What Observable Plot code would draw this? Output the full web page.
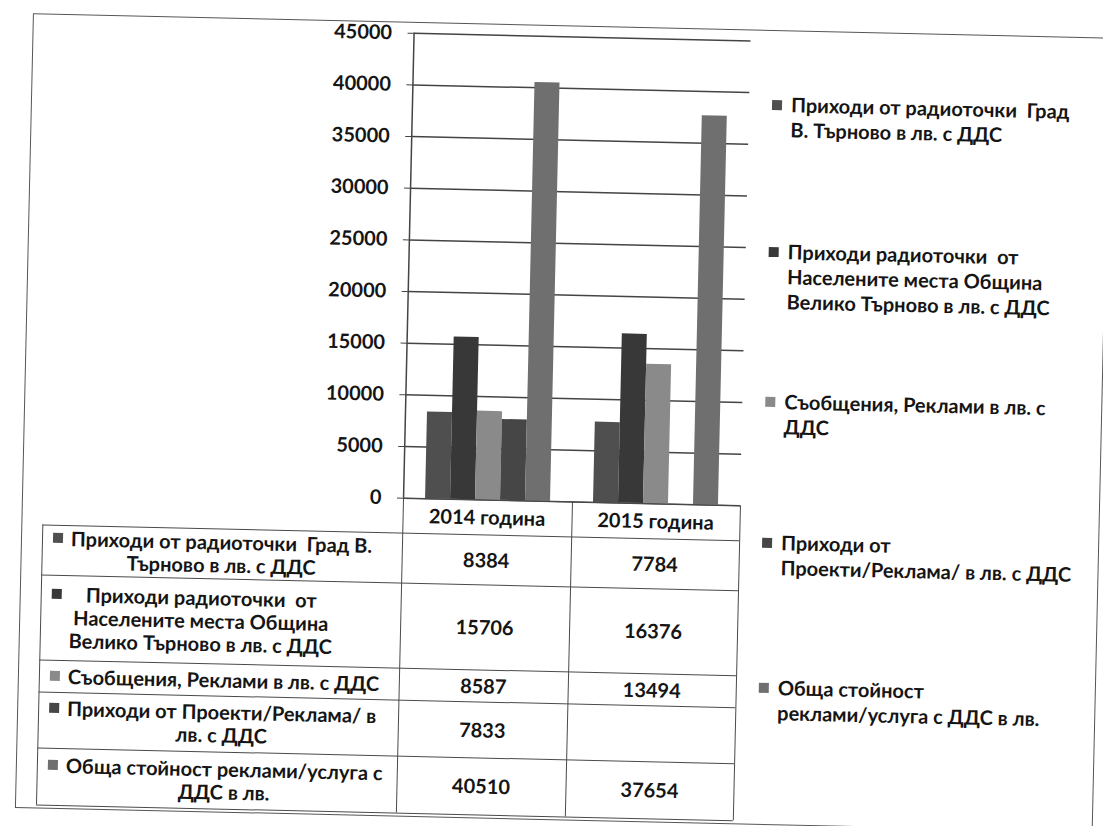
<!DOCTYPE html>
<html><head><meta charset="utf-8">
<script src="https://cdn.jsdelivr.net/npm/d3@7"></script>
<script src="https://cdn.jsdelivr.net/npm/@observablehq/plot@0.6"></script>
<style>
html,body{margin:0;padding:0;background:#fff;overflow:hidden}
#page{position:relative;width:1103px;height:826px;transform:rotate(1.3deg);transform-origin:551px 413px;
  font-family:Lato,"Open Sans",sans-serif;font-weight:700;font-size:20px;color:#151515}
.abs{position:absolute}
.hl{position:absolute;height:0;border-top:1.5px solid #4a4a4a}
.vl{position:absolute;width:0;border-left:1.5px solid #4a4a4a}
.sw{display:inline-block;width:10px;height:10px;flex:none}
.txt{white-space:pre}
.cell{position:absolute;display:flex;align-items:center;justify-content:center;text-align:center;line-height:23px;box-sizing:border-box}
.lab{justify-content:flex-start;padding-left:11px}
.inner{display:flex;align-items:flex-start}
.lab .sw{margin-top:6px;margin-right:8px}
.leg{position:absolute;display:flex;line-height:25px}
.leg .sw{margin-top:8px;margin-right:9px}
</style></head><body>
<div id="page"></div>
<script>
// ---- data ----
const years = ["2014 година", "2015 година"];
const series = [
  "Приходи от радиоточки  Град В. Търново в лв. с ДДС",
  "Приходи радиоточки  от Населените места Община Велико Търново в лв. с ДДС",
  "Съобщения, Реклами в лв. с ДДС",
  "Приходи от Проекти/Реклама/ в лв. с ДДС",
  "Обща стойност реклами/услуга с ДДС в лв."
];
const values2014 = [8384, 15706, 8587, 7833, 40510];
const values2015 = [7784, 16376, 13494, null, 37654];
const yTicks = [0, 5000, 10000, 15000, 20000, 25000, 30000, 35000, 40000, 45000];
const colors = ["#4f4f4f", "#383838", "#8a8a8a", "#464646", "#6f6f6f"];
const tableLines = [
  ["Приходи от радиоточки  Град В.", "Търново в лв. с ДДС"],
  ["Приходи радиоточки  от", "Населените места Община", "Велико Търново в лв. с ДДС"],
  ["Съобщения, Реклами в лв. с ДДС"],
  ["Приходи от Проекти/Реклама/ в", "лв. с ДДС"],
  ["Обща стойност реклами/услуга с", "ДДС в лв."]
];
const legendLines = [
  ["Приходи от радиоточки  Град", "В. Търново в лв. с ДДС"],
  ["Приходи радиоточки  от", "Населените места Община", "Велико Търново в лв. с ДДС"],
  ["Съобщения, Реклами в лв. с", "ДДС"],
  ["Приходи от", "Проекти/Реклама/ в лв. с ДДС"],
  ["Обща стойност", "реклами/услуга с ДДС в лв."]
];

const data = series.flatMap((s, i) => [
  {year: years[0], series: s, value: values2014[i]},
  {year: years[1], series: s, value: values2015[i]}
]).filter(d => d.value != null);

// ---- layout ----
const page = document.getElementById("page");
const W = 760, H = 505, ML = 405, MR = 18, MT = 36, MB = 4;
const common = {width: W, height: H, marginLeft: ML, marginRight: MR, marginTop: MT, marginBottom: MB,
  style: {fontFamily: "Lato, sans-serif", fontSize: "20px", fontWeight: "700", color: "#151515", background: "transparent", overflow: "visible"}};

const frame = document.createElement("div");
frame.className = "abs";
Object.assign(frame.style, {left: "24px", top: "25px", width: "1076px", height: "793px", border: "1.5px solid #555"});
page.appendChild(frame);

const bg = Plot.plot({
  ...common,
  x: {domain: [0, 1], axis: null},
  y: {domain: [0, 45000], axis: null},
  marks: [
    Plot.gridY(yTicks, {stroke: "#444", strokeOpacity: 1, strokeWidth: 1.5}),
    Plot.axisY(yTicks, {tickSize: 6, tickPadding: 16, tickFormat: d3.format("d"), fontSize: 20, stroke: "#444"}),
    Plot.ruleX([0], {stroke: "#444", strokeWidth: 1.5})
  ]
});
bg.style.position = "absolute"; bg.style.left = "0px"; bg.style.top = "0px";
page.appendChild(bg);

const bars = Plot.plot({
  ...common,
  fx: {domain: years, paddingInner: 0.23, paddingOuter: 0.115, axis: null},
  x: {domain: series, padding: 0, axis: null},
  y: {domain: [0, 45000], axis: null},
  color: {domain: series, range: colors},
  marks: [Plot.barY(data, {fx: "year", x: "series", y: "value", fill: "series"})]
});
bars.style.position = "absolute"; bars.style.left = "0px"; bars.style.top = "0px";
page.appendChild(bars);

// ---- data table ----
const colX = [45, 405, 574, 742];
const rowY = [501, 536, 586, 671, 703, 759, 816];
function line(cls, l, t, len) {
  const d = document.createElement("div"); d.className = cls;
  d.style.left = l + "px"; d.style.top = t + "px";
  if (cls === "hl") d.style.width = len + "px"; else d.style.height = len + "px";
  page.appendChild(d);
}
line("hl", colX[1], rowY[0], colX[3] - colX[1]);
for (let r = 1; r < rowY.length; r++) line("hl", colX[0], rowY[r], colX[3] - colX[0]);
line("vl", colX[0], rowY[1], rowY[6] - rowY[1]);
for (let c = 1; c < 4; c++) line("vl", colX[c], rowY[0], rowY[6] - rowY[0]);

function cell(l, t, w, h, html, cls) {
  const d = document.createElement("div"); d.className = "cell" + (cls ? " " + cls : "");
  Object.assign(d.style, {left: l + "px", top: t + "px", width: w + "px", height: h + "px"});
  d.innerHTML = html; page.appendChild(d);
}
years.forEach((y, j) => cell(colX[j + 1], rowY[0], colX[j + 2] - colX[j + 1], rowY[1] - rowY[0], y));
series.forEach((s, i) => {
  const t = rowY[i + 1], h = rowY[i + 2] - rowY[i + 1];
  cell(colX[0], t, colX[1] - colX[0], h,
    `<div class="inner"><span class="sw" style="background:${colors[i]}"></span><div class="txt">${tableLines[i].join("\n")}</div></div>`, "lab");
  [values2014[i], values2015[i]].forEach((v, j) =>
    cell(colX[j + 1], t, colX[j + 2] - colX[j + 1], h, v == null ? "" : String(v)));
});

// ---- legend ----
const legendY = [99, 246, 396, 537, 682];
series.forEach((s, i) => {
  const d = document.createElement("div"); d.className = "leg";
  d.style.left = "765px"; d.style.top = (legendY[i] - 12.5) + "px";
  d.innerHTML = `<span class="sw" style="background:${colors[i]}"></span><div class="txt">${legendLines[i].join("\n")}</div>`;
  page.appendChild(d);
});
</script>
</body></html>
